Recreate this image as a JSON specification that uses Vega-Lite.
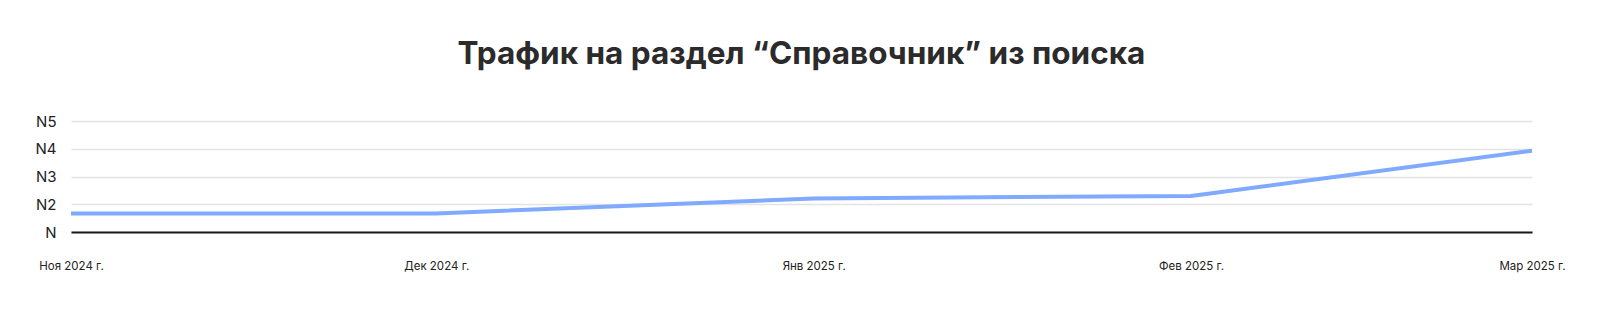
{
  "$schema": "https://vega.github.io/schema/vega-lite/v6.json",
  "autosize": {"type": "none"},
  "width": 1461,
  "height": 111,
  "padding": {"left": 71, "top": 121, "right": 68, "bottom": 85},
  "background": "white",
  "title": {
    "text": "Трафик на раздел “Справочник” из поиска",
    "font": "Inter",
    "fontSize": 31.5,
    "fontWeight": "bold",
    "color": "#2b2b2b",
    "anchor": "middle",
    "baseline": "alphabetic",
    "offset": 19
  },
  "config": {
    "view": {"stroke": null},
    "axis": {"labelFont": "Inter", "titleFont": "Inter"}
  },
  "data": {
    "values": [
      {"month": "2024-11-01", "value": 0.67},
      {"month": "2024-12-01", "value": 0.67},
      {"month": "2025-01-01", "value": 1.21},
      {"month": "2025-02-01", "value": 1.3},
      {"month": "2025-03-01", "value": 2.93}
    ]
  },
  "mark": {"type": "line", "color": "#7faaff", "strokeWidth": 4, "strokeCap": "butt"},
  "encoding": {
    "x": {
      "field": "month",
      "type": "temporal",
      "scale": {"type": "utc", "domain": [{"year": 2024, "month": 11, "date": 1, "utc": true}, {"year": 2025, "month": 3, "date": 1, "utc": true}], "nice": false},
      "axis": {
        "title": null,
        "values": [{"year": 2024, "month": 11, "date": 1, "utc": true}, {"year": 2024, "month": 12, "date": 1, "utc": true}, {"year": 2025, "month": 1, "date": 1, "utc": true}, {"year": 2025, "month": 2, "date": 1, "utc": true}, {"year": 2025, "month": 3, "date": 1, "utc": true}],
        "labelExpr": "['Янв','Фев','Мар','Апр','Май','Июн','Июл','Авг','Сен','Окт','Ноя','Дек'][utcmonth(datum.value)] + ' ' + utcyear(datum.value) + ' г.'",
        "labelFontSize": 11.5,
        "labelColor": "#222222",
        "labelPadding": 28,
        "labelFlush": false,
        "labelOverlap": false,
        "ticks": false,
        "grid": false,
        "domain": true,
        "domainColor": "#1a1a1a",
        "domainWidth": 2
      }
    },
    "y": {
      "field": "value",
      "type": "quantitative",
      "scale": {"domain": [0, 4], "nice": false, "zero": true},
      "axis": {
        "title": null,
        "values": [0, 1, 2, 3, 4],
        "labelExpr": "datum.value == 0 ? 'N' : 'N' + (datum.value + 1)",
        "labelFontSize": 15,
        "labelColor": "#222222",
        "labelPadding": 15,
        "ticks": false,
        "domain": false,
        "grid": true,
        "gridColor": "#e3e3e3",
        "gridWidth": 1.5
      }
    }
  }
}
